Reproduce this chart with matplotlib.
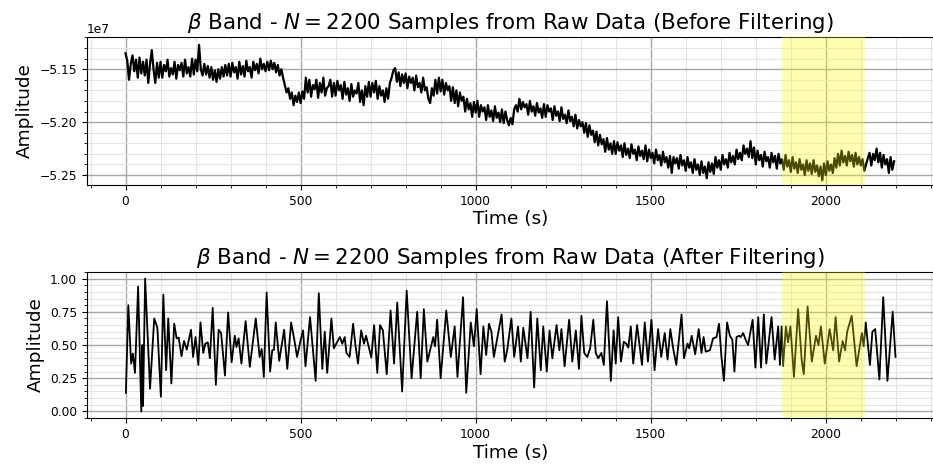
import numpy as np
import matplotlib
matplotlib.use("Agg")
import matplotlib.pyplot as plt
from matplotlib.ticker import MultipleLocator

# raw beta-band signal, read every 5 samples (units of 1e7)
raw_t = np.arange(0, 2200, 5)
raw_vals = [
    -5.135, -5.142, -5.160, -5.145, -5.137, -5.152, -5.141, -5.158, -5.139, -5.154,
    -5.143, -5.156, -5.141, -5.163, -5.145, -5.132, -5.150, -5.163, -5.144, -5.158,
    -5.143, -5.158, -5.146, -5.152, -5.141, -5.157, -5.149, -5.155, -5.143, -5.159,
    -5.146, -5.151, -5.144, -5.157, -5.141, -5.154, -5.148, -5.157, -5.140, -5.155,
    -5.141, -5.152, -5.127, -5.150, -5.156, -5.145, -5.155, -5.147, -5.158, -5.148,
    -5.160, -5.151, -5.162, -5.150, -5.159, -5.148, -5.157, -5.146, -5.156, -5.145,
    -5.157, -5.144, -5.153, -5.148, -5.159, -5.143, -5.155, -5.147, -5.157, -5.142,
    -5.152, -5.148, -5.158, -5.143, -5.151, -5.145, -5.154, -5.140, -5.150, -5.145,
    -5.152, -5.143, -5.151, -5.142, -5.150, -5.144, -5.153, -5.146, -5.156, -5.150,
    -5.158, -5.165, -5.172, -5.168, -5.178, -5.172, -5.184, -5.175, -5.181, -5.172,
    -5.182, -5.171, -5.178, -5.158, -5.172, -5.160, -5.176, -5.165, -5.169, -5.160,
    -5.177, -5.163, -5.172, -5.158, -5.175, -5.168, -5.166, -5.160, -5.176, -5.163,
    -5.175, -5.161, -5.170, -5.165, -5.178, -5.162, -5.174, -5.168, -5.180, -5.164,
    -5.176, -5.170, -5.173, -5.163, -5.181, -5.170, -5.184, -5.166, -5.176, -5.162,
    -5.176, -5.163, -5.172, -5.161, -5.178, -5.166, -5.175, -5.170, -5.181, -5.168,
    -5.178, -5.163, -5.158, -5.151, -5.149, -5.162, -5.153, -5.166, -5.155, -5.163,
    -5.154, -5.168, -5.157, -5.163, -5.158, -5.170, -5.156, -5.167, -5.163, -5.172,
    -5.158, -5.170, -5.167, -5.178, -5.182, -5.168, -5.175, -5.160, -5.173, -5.158,
    -5.171, -5.160, -5.174, -5.163, -5.170, -5.166, -5.180, -5.167, -5.182, -5.170,
    -5.185, -5.172, -5.180, -5.176, -5.190, -5.178, -5.188, -5.182, -5.195, -5.181,
    -5.191, -5.180, -5.195, -5.184, -5.190, -5.186, -5.198, -5.184, -5.195, -5.189,
    -5.199, -5.185, -5.196, -5.191, -5.200, -5.188, -5.201, -5.190, -5.198, -5.203,
    -5.196, -5.202, -5.188, -5.184, -5.190, -5.178, -5.188, -5.181, -5.186, -5.183,
    -5.193, -5.180, -5.190, -5.185, -5.194, -5.182, -5.191, -5.187, -5.196, -5.183,
    -5.195, -5.184, -5.190, -5.187, -5.198, -5.185, -5.194, -5.190, -5.199, -5.186,
    -5.197, -5.193, -5.201, -5.189, -5.199, -5.195, -5.204, -5.193, -5.206, -5.198,
    -5.204, -5.200, -5.210, -5.201, -5.214, -5.203, -5.212, -5.208, -5.219, -5.209,
    -5.222, -5.212, -5.221, -5.216, -5.228, -5.215, -5.226, -5.220, -5.230, -5.218,
    -5.230, -5.219, -5.227, -5.222, -5.233, -5.220, -5.231, -5.225, -5.234, -5.221,
    -5.230, -5.226, -5.236, -5.223, -5.232, -5.227, -5.235, -5.222, -5.237, -5.226,
    -5.234, -5.229, -5.239, -5.226, -5.236, -5.231, -5.241, -5.228, -5.238, -5.233,
    -5.243, -5.232, -5.248, -5.233, -5.239, -5.234, -5.244, -5.231, -5.241, -5.236,
    -5.246, -5.233, -5.243, -5.238, -5.248, -5.235, -5.245, -5.240, -5.250, -5.237,
    -5.248, -5.242, -5.253, -5.238, -5.247, -5.239, -5.249, -5.233, -5.243, -5.236,
    -5.245, -5.231, -5.240, -5.235, -5.243, -5.229, -5.238, -5.232, -5.240, -5.226,
    -5.235, -5.229, -5.236, -5.222, -5.230, -5.225, -5.233, -5.218, -5.234, -5.224,
    -5.240, -5.227, -5.236, -5.231, -5.242, -5.228, -5.237, -5.233, -5.243, -5.229,
    -5.238, -5.232, -5.244, -5.230, -5.239, -5.235, -5.245, -5.231, -5.242, -5.236,
    -5.247, -5.233, -5.244, -5.238, -5.248, -5.235, -5.245, -5.240, -5.250, -5.236,
    -5.246, -5.239, -5.249, -5.236, -5.247, -5.241, -5.251, -5.242, -5.255, -5.239,
    -5.250, -5.237, -5.246, -5.240, -5.248, -5.234, -5.243, -5.230, -5.241, -5.227,
    -5.238, -5.232, -5.241, -5.228, -5.237, -5.231, -5.242, -5.229, -5.240, -5.233,
    -5.241, -5.235, -5.246, -5.240, -5.234, -5.229, -5.241, -5.230, -5.236, -5.225,
    -5.238, -5.229, -5.243, -5.231, -5.240, -5.235, -5.248, -5.233, -5.245, -5.237,
]

# filtered signal, turning points (sample, normalised amplitude)
filt_t = [
    1, 8, 16, 21, 27, 36, 45, 48, 50, 56, 70, 82, 91, 101, 108, 116, 122, 131, 139, 146,
    152, 160, 167, 175, 187, 193, 200, 208, 214, 222, 228, 235, 241, 249, 258, 266, 273, 284, 293, 303,
    312, 317, 323, 331, 343, 355, 372, 383, 389, 395, 403, 413, 419, 424, 429, 439, 453, 462, 473, 482,
    490, 500, 507, 514, 527, 543, 552, 562, 569, 576, 588, 595, 612, 619, 626, 631, 640, 650, 657, 664,
    673, 681, 687, 702, 710, 719, 727, 735, 746, 757, 767, 776, 790, 803, 817, 833, 843, 852, 862, 879,
    884, 890, 900, 916, 929, 940, 948, 964, 973, 986, 995, 1003, 1014, 1022, 1030, 1038, 1045, 1052, 1074, 1083,
    1090, 1102, 1110, 1121, 1129, 1136, 1148, 1157, 1167, 1176, 1186, 1193, 1203, 1211, 1219, 1231, 1239, 1245, 1254, 1267,
    1276, 1286, 1295, 1302, 1310, 1319, 1327, 1336, 1343, 1350, 1359, 1366, 1375, 1386, 1394, 1400, 1407, 1415, 1423, 1430,
    1436, 1443, 1450, 1461, 1475, 1483, 1492, 1502, 1511, 1521, 1530, 1540, 1548, 1556, 1564, 1573, 1588, 1595, 1605, 1610,
    1617, 1627, 1637, 1645, 1651, 1657, 1669, 1678, 1688, 1695, 1702, 1709, 1718, 1726, 1733, 1739, 1745, 1752, 1757, 1764,
    1771, 1778, 1791, 1799, 1807, 1815, 1823, 1830, 1845, 1854, 1864, 1869, 1874, 1878, 1886, 1892, 1899, 1909, 1921, 1931,
    1937, 1948, 1960, 1972, 1979, 1986, 1997, 2011, 2021, 2028, 2038, 2048, 2055, 2061, 2074, 2088, 2103, 2108, 2114, 2126,
    2133, 2141, 2153, 2164, 2176, 2191, 2199,
]
filt_vals = [
    0.14, 0.80, 0.36, 0.435, 0.29, 0.94, 0.00, 0.50, 0.04, 1.00, 0.17, 0.70, 0.63, 0.11, 0.88, 0.31, 0.70, 0.21, 0.66, 0.55,
    0.555, 0.415, 0.53, 0.465, 0.615, 0.41, 0.56, 0.35, 0.67, 0.44, 0.51, 0.52, 0.40, 0.78, 0.20, 0.615, 0.59, 0.27, 0.745, 0.37,
    0.57, 0.485, 0.55, 0.36, 0.68, 0.335, 0.70, 0.41, 0.47, 0.26, 0.895, 0.30, 0.46, 0.465, 0.67, 0.38, 0.615, 0.32, 0.67, 0.54,
    0.41, 0.535, 0.61, 0.34, 0.71, 0.23, 0.89, 0.32, 0.60, 0.29, 0.70, 0.475, 0.56, 0.51, 0.56, 0.44, 0.41, 0.66, 0.49, 0.36,
    0.61, 0.51, 0.57, 0.405, 0.65, 0.29, 0.65, 0.61, 0.28, 0.76, 0.36, 0.82, 0.15, 0.91, 0.25, 0.75, 0.25, 0.77, 0.375, 0.56,
    0.49, 0.69, 0.25, 0.76, 0.41, 0.64, 0.26, 0.86, 0.14, 0.67, 0.49, 0.77, 0.28, 0.64, 0.425, 0.66, 0.60, 0.41, 0.73, 0.375,
    0.46, 0.70, 0.41, 0.64, 0.375, 0.63, 0.40, 0.75, 0.18, 0.70, 0.31, 0.64, 0.30, 0.61, 0.40, 0.65, 0.46, 0.62, 0.34, 0.69,
    0.375, 0.61, 0.32, 0.72, 0.44, 0.41, 0.475, 0.69, 0.44, 0.40, 0.44, 0.35, 0.83, 0.23, 0.61, 0.36, 0.71, 0.375, 0.525, 0.51,
    0.48, 0.64, 0.36, 0.65, 0.35, 0.67, 0.375, 0.69, 0.31, 0.62, 0.41, 0.59, 0.39, 0.62, 0.475, 0.35, 0.73, 0.40, 0.51, 0.475,
    0.57, 0.43, 0.62, 0.44, 0.56, 0.45, 0.46, 0.55, 0.56, 0.66, 0.41, 0.23, 0.67, 0.57, 0.54, 0.30, 0.56, 0.57, 0.56, 0.59,
    0.54, 0.50, 0.69, 0.33, 0.71, 0.33, 0.73, 0.36, 0.71, 0.39, 0.64, 0.35, 0.64, 0.34, 0.64, 0.52, 0.64, 0.26, 0.77, 0.39,
    0.28, 0.79, 0.375, 0.57, 0.50, 0.64, 0.36, 0.62, 0.46, 0.71, 0.375, 0.53, 0.46, 0.60, 0.72, 0.34, 0.59, 0.49, 0.67, 0.35,
    0.60, 0.62, 0.24, 0.86, 0.23, 0.75, 0.41,
]

span_start, span_end = 1876, 2112

fig = plt.figure(figsize=(9.33, 4.66), dpi=100)
ax1 = fig.add_axes([87 / 933, 1 - 185 / 466, 847 / 933, 148 / 466])
ax2 = fig.add_axes([87 / 933, 1 - 418 / 466, 847 / 933, 146 / 466])


def style(ax, ymajor, yminor):
    ax.set_xlim(-110, 2309)
    ax.xaxis.set_major_locator(MultipleLocator(500))
    ax.xaxis.set_minor_locator(MultipleLocator(100))
    ax.yaxis.set_major_locator(MultipleLocator(ymajor))
    ax.yaxis.set_minor_locator(MultipleLocator(yminor))
    ax.grid(which="major", color="#a8a8a8", linewidth=1.0)
    ax.grid(which="minor", color="#e4e4e4", linewidth=0.8)
    ax.set_axisbelow(True)
    ax.tick_params(labelsize=8.8)
    ax.set_xlabel("Time (s)", fontsize=13.3, labelpad=2)
    ax.set_ylabel("Amplitude", fontsize=13.3)
    ax.axvspan(span_start, span_end, color="yellow", alpha=0.3, lw=0, zorder=3)


ax1.plot(raw_t, np.array(raw_vals) * 1e7, color="black", lw=1.6)
ax1.set_ylim(-5.2594e7, -5.1196e7)
style(ax1, 0.05e7, 0.01e7)
ax1.yaxis.get_offset_text().set_fontsize(8.8)
ax1.set_title(r"$\beta$ Band - $N = 2200$ Samples from Raw Data (Before Filtering)", fontsize=15.4)

ax2.plot(filt_t, filt_vals, color="black", lw=1.3)
ax2.set_ylim(-0.05, 1.05)
style(ax2, 0.25, 0.05)
ax2.set_title(r"$\beta$ Band - $N = 2200$ Samples from Raw Data (After Filtering)", fontsize=15.4)

fig.savefig("out.png", dpi=100)
